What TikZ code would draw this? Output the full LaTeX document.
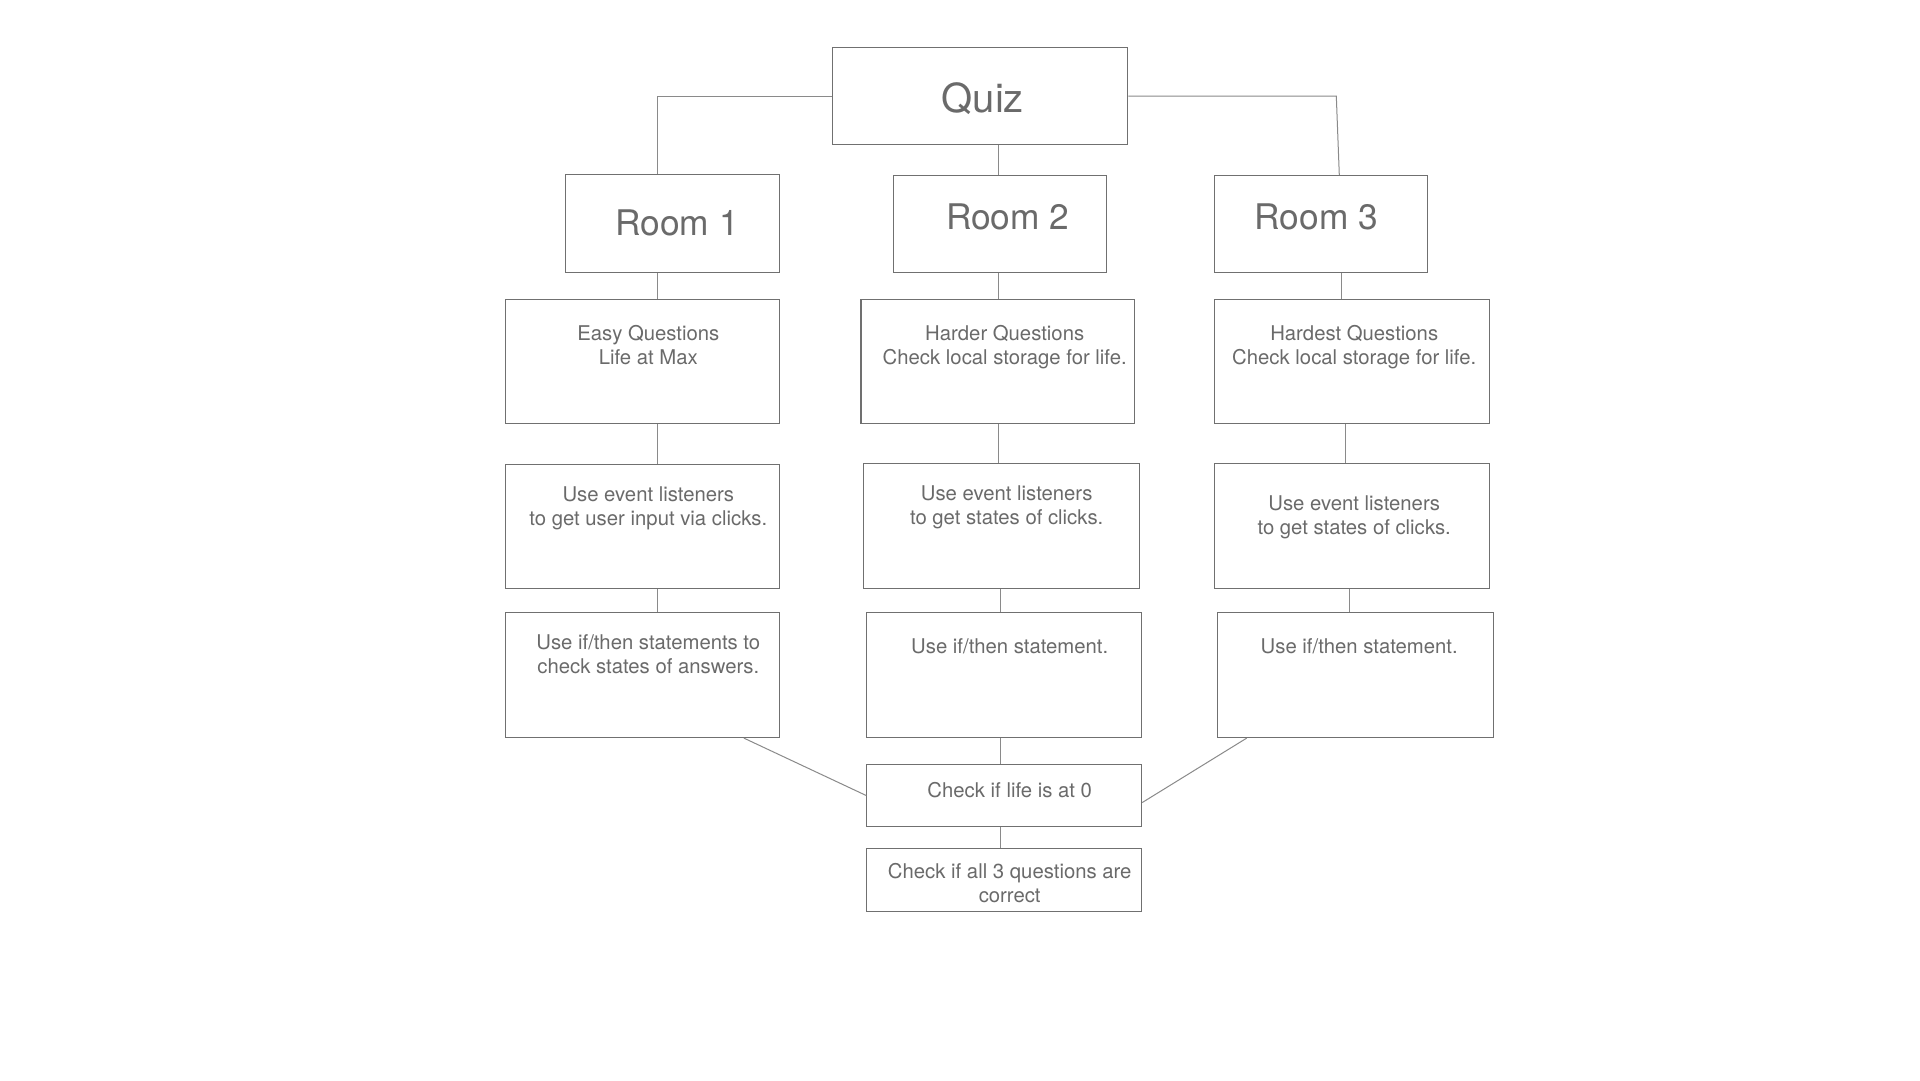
\documentclass[tikz,border=0pt]{standalone}
\usepackage{fontspec}
\setmainfont{TeX Gyre Heros}
\definecolor{boxgray}{HTML}{707070}
\definecolor{linegray}{HTML}{8A8A8A}
\definecolor{txtgray}{HTML}{6A6A6A}
\begin{document}
\begin{tikzpicture}[x=1pt,y=-1pt,
  box/.style={draw=boxgray,line width=1.1pt,inner sep=0pt,anchor=north west},
  conn/.style={draw=linegray,line width=1pt},
  small/.style={text=txtgray,inner sep=0pt,anchor=north,align=center,font=\fontsize{20.3}{24}\selectfont},
  big/.style={text=txtgray,inner sep=0pt,anchor=north,font=\fontsize{35.3}{40}\selectfont},
]
\useasboundingbox[fill=white] (0,0) rectangle (1920,1080);
% boxes
\node[box,minimum width=295.7pt,minimum height=97pt] (quiz) at (831.5,47) {};
\node[box,minimum width=214.1pt,minimum height=98pt] (r1) at (564.6,174) {};
\node[box,minimum width=213.1pt,minimum height=97pt] (r2) at (893.2,175) {};
\node[box,minimum width=213.1pt,minimum height=97pt] (r3) at (1213.8,175) {};
\node[box,minimum width=273.8pt,minimum height=124pt] (q1) at (504.9,299) {};
\node[box,minimum width=273.8pt,minimum height=124pt] (q2) at (860.4,299) {};
\node[box,minimum width=274.8pt,minimum height=124pt] (q3) at (1213.8,299) {};
\node[box,minimum width=273.8pt,minimum height=124pt] (l1) at (504.9,464) {};
\node[box,minimum width=275.8pt,minimum height=125pt] (l2) at (863.3,463) {};
\node[box,minimum width=274.8pt,minimum height=125pt] (l3) at (1213.8,463) {};
\node[box,minimum width=273.8pt,minimum height=125pt] (s1) at (504.9,612) {};
\node[box,minimum width=274.8pt,minimum height=125pt] (s2) at (866.3,612) {};
\node[box,minimum width=275.8pt,minimum height=125pt] (s3) at (1216.8,612) {};
\node[box,minimum width=274.8pt,minimum height=62pt] (life) at (866.3,764) {};
\node[box,minimum width=274.8pt,minimum height=63pt] (all) at (866.3,848) {};
% texts
\node[text=txtgray,inner sep=0pt,anchor=north,font=\fontsize{40}{46}\selectfont] (tquiz) at (982.8,82) {Quiz};
\node[big] (tr1) at (677.1,210) {Room 1};
\node[big] (tr2) at (1007.7,204) {Room 2};
\node[big] (tr3) at (1316.4,204) {Room 3};
\node[small] (tq1) at (648.3,325) {Easy Questions\\Life at Max};
\node[small] (tq2) at (1004.7,325) {Harder Questions\\Check local storage for life.};
\node[small] (tq3) at (1354.2,325) {Hardest Questions\\Check local storage for life.};
\node[small] (tl1) at (648.3,486) {Use event listeners\\to get user input via clicks.};
\node[small] (tl2) at (1006.7,485) {Use event listeners\\to get states of clicks.};
\node[small] (tl3) at (1354.2,495) {Use event listeners\\to get states of clicks.};
\node[small] (ts1) at (648.3,634) {Use if/then statements to\\check states of answers.};
\node[small] (ts2) at (1009.7,638) {Use if/then statement.};
\node[small] (ts3) at (1359.2,638) {Use if/then statement.};
\node[small] (tlife) at (1009.7,782) {Check if life is at 0};
\node[small] (tall) at (1009.7,863) {Check if all 3 questions are\\correct};
% column coordinates
\coordinate (c1) at (657.2,0);
\coordinate (c2) at (998.8,0);
\coordinate (c2b) at (1000.8,0);
\coordinate (c3) at (1339.3,0);
\coordinate (c3b) at (1336.3,0);
\coordinate (c3c) at (1341.3,0);
\coordinate (c3d) at (1345.3,0);
\coordinate (c3e) at (1349.2,0);
\coordinate (d1) at (743.9,0);
\coordinate (d3) at (1246.7,0);
% connectors
\draw[conn] (quiz.west) -| (r1.north -| c1);
\draw[conn] (quiz.south -| c2) -- (r2.north -| c2);
\draw[conn] (quiz.east) -- (quiz.east -| c3b) -- (r3.north -| c3);
\draw[conn] (r1.south -| c1) -- (q1.north -| c1);
\draw[conn] (r2.south -| c2) -- (q2.north -| c2);
\draw[conn] (r3.south -| c3c) -- (q3.north -| c3c);
\draw[conn] (q1.south -| c1) -- (l1.north -| c1);
\draw[conn] (q2.south -| c2) -- (l2.north -| c2);
\draw[conn] (q3.south -| c3d) -- (l3.north -| c3d);
\draw[conn] (l1.south -| c1) -- (s1.north -| c1);
\draw[conn] (l2.south -| c2b) -- (s2.north -| c2b);
\draw[conn] (l3.south -| c3e) -- (s3.north -| c3e);
\draw[conn] (s2.south -| c2b) -- (life.north -| c2b);
\draw[conn] (life.south -| c2b) -- (all.north -| c2b);
\draw[conn] (s1.south -| d1) -- (life.west);
\draw[conn] (s3.south -| d3) -- ([yshift=-7pt]life.east);
\end{tikzpicture}
\end{document}
